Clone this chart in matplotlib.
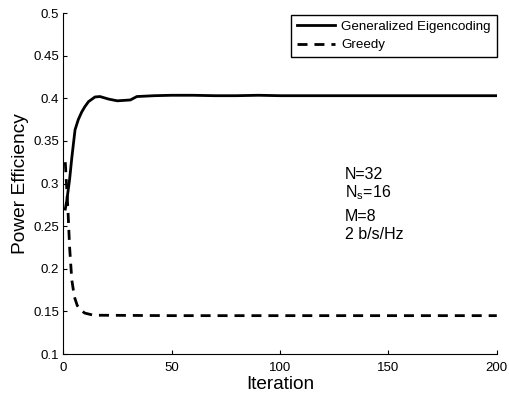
import matplotlib
matplotlib.use("Agg")
import matplotlib.pyplot as plt

plt.rcParams['font.family'] = ['Liberation Sans', 'DejaVu Sans']
plt.rcParams['mathtext.fontset'] = 'custom'
plt.rcParams['mathtext.rm'] = 'Liberation Sans'
plt.rcParams['mathtext.it'] = 'Liberation Sans'

# values
geo_iter = [1, 1.7, 3, 4, 5.5, 7, 8.6, 10, 11.7, 14.7, 17, 21, 25, 31, 34, 42,
            50, 60, 70, 80, 90, 100, 150, 200]
geo_eff = [0.27, 0.28, 0.305, 0.33, 0.363, 0.375, 0.384, 0.39, 0.396, 0.4015,
           0.402, 0.399, 0.397, 0.398, 0.402, 0.403, 0.4035, 0.4035, 0.403,
           0.403, 0.4035, 0.403, 0.403, 0.403]

greedy_iter = [1, 2.3, 3, 4, 5.2, 6.5, 7.8, 10, 14, 50, 100, 150, 200]
greedy_eff = [0.325, 0.265, 0.225, 0.187, 0.167, 0.157, 0.152, 0.148, 0.1455,
              0.145, 0.145, 0.145, 0.145]

params = ['N=32', r'N$_\mathregular{s}$=16', 'M=8', '2 b/s/Hz']

fig = plt.figure(figsize=(5.09, 3.94), dpi=100)
ax = fig.add_axes([0.124, 0.1015, 0.852, 0.8655])

ax.plot(geo_iter, geo_eff, color='black', lw=2, label='Generalized Eigencoding')
ax.plot(greedy_iter, greedy_eff, color='black', lw=2, dashes=(3.6, 2.5),
        label='Greedy')

ax.set_xlim(0, 200)
ax.set_ylim(0.1, 0.5)
ax.set_xticks([0, 50, 100, 150, 200])
ax.set_yticks([0.1, 0.15, 0.2, 0.25, 0.3, 0.35, 0.4, 0.45, 0.5])
ax.set_yticklabels(['0.1', '0.15', '0.2', '0.25', '0.3', '0.35', '0.4', '0.45', '0.5'])
ax.tick_params(labelsize=9.5, direction='in', length=3, width=0.8)
ax.tick_params(axis='y', pad=3)
ax.tick_params(axis='x', pad=6)
ax.spines['top'].set_visible(False)
ax.spines['right'].set_visible(False)
ax.set_xlabel('Iteration', fontsize=13.7, labelpad=1)
ax.set_ylabel('Power Efficiency', fontsize=13.8, labelpad=3)

leg = ax.legend(loc='upper right', bbox_to_anchor=(1.0, 0.995), fontsize=9.6,
                fancybox=False, edgecolor='black', framealpha=1,
                handlelength=2.9, borderaxespad=0, borderpad=0.45,
                labelspacing=0.45, handletextpad=0.45)
leg.get_frame().set_linewidth(1.0)

ys = [0.31, 0.289, 0.261, 0.2396]
for txt, yv in zip(params, ys):
    ax.text(130, yv, txt, fontsize=11.5, va='center', ha='left')

fig.savefig('out.png', dpi=100)
